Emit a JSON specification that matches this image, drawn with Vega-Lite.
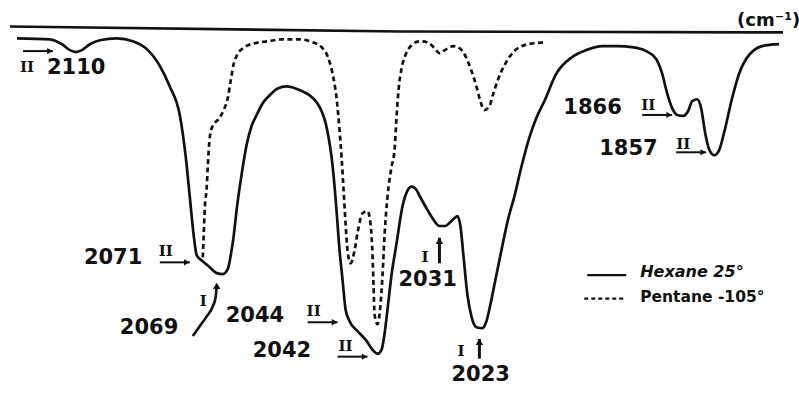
{
  "$schema": "https://vega.github.io/schema/vega-lite/v6.json",
  "width": 799,
  "height": 393,
  "autosize": {"type": "none"},
  "padding": 0,
  "background": "white",
  "config": {"view": {"stroke": null}},
  "datasets": {
    "hexane": [
      {"pos": 4.25, "T": 90.25}, {"pos": 12.5, "T": 90}, {"pos": 15.5, "T": 88.75}, {"pos": 17.5, "T": 87.25},
      {"pos": 19, "T": 86.75}, {"pos": 20.5, "T": 87.25}, {"pos": 22.5, "T": 88.75}, {"pos": 25, "T": 89.75},
      {"pos": 29.25, "T": 90.25}, {"pos": 33.25, "T": 89.5}, {"pos": 36.75, "T": 87.5}, {"pos": 40, "T": 83.25},
      {"pos": 42.5, "T": 78}, {"pos": 45, "T": 70.75}, {"pos": 46.5, "T": 60}, {"pos": 47.5, "T": 50},
      {"pos": 48.5, "T": 40}, {"pos": 49.25, "T": 35}, {"pos": 50.75, "T": 33.5}, {"pos": 52.5, "T": 32},
      {"pos": 54.25, "T": 30.5}, {"pos": 55.75, "T": 30.25}, {"pos": 57, "T": 31.5}, {"pos": 57.75, "T": 35},
      {"pos": 58.5, "T": 40}, {"pos": 59.25, "T": 46.75}, {"pos": 60.5, "T": 55.75}, {"pos": 61.75, "T": 63.25},
      {"pos": 63, "T": 68}, {"pos": 64.25, "T": 70.75}, {"pos": 65.75, "T": 73.75}, {"pos": 67.5, "T": 75.75},
      {"pos": 69.5, "T": 77.5}, {"pos": 71.75, "T": 78}, {"pos": 74, "T": 77.5}, {"pos": 75.75, "T": 76.75},
      {"pos": 77.5, "T": 75.75}, {"pos": 79.25, "T": 74}, {"pos": 80.5, "T": 71.75}, {"pos": 81.5, "T": 68.75},
      {"pos": 82.25, "T": 65}, {"pos": 83, "T": 60}, {"pos": 83.75, "T": 52.5}, {"pos": 84.25, "T": 46.25},
      {"pos": 85, "T": 36.25}, {"pos": 85.75, "T": 28.75}, {"pos": 86.5, "T": 21.25}, {"pos": 87.5, "T": 18.25},
      {"pos": 89.5, "T": 15.75}, {"pos": 91.75, "T": 13.25}, {"pos": 93.25, "T": 11}, {"pos": 94.5, "T": 10},
      {"pos": 95.5, "T": 11}, {"pos": 96.25, "T": 15}, {"pos": 97, "T": 21.25}, {"pos": 98, "T": 30},
      {"pos": 99.25, "T": 38}, {"pos": 100.75, "T": 47.5}, {"pos": 102, "T": 51.5}, {"pos": 103, "T": 52.5},
      {"pos": 104, "T": 52}, {"pos": 105.25, "T": 49.75}, {"pos": 106.75, "T": 47}, {"pos": 108.25, "T": 44.5},
      {"pos": 110, "T": 42.5}, {"pos": 111.5, "T": 42.5}, {"pos": 112.75, "T": 43.5}, {"pos": 113.75, "T": 44.5},
      {"pos": 114.5, "T": 45}, {"pos": 115.25, "T": 42.5}, {"pos": 116, "T": 35}, {"pos": 117, "T": 25},
      {"pos": 118, "T": 19.5}, {"pos": 119.25, "T": 16.75}, {"pos": 120.75, "T": 16.5}, {"pos": 121.75, "T": 18.25},
      {"pos": 122.75, "T": 22.5}, {"pos": 124, "T": 28.75}, {"pos": 125.75, "T": 37.5}, {"pos": 127.25, "T": 44.5},
      {"pos": 128.75, "T": 50}, {"pos": 130.5, "T": 57.5}, {"pos": 132.5, "T": 65}, {"pos": 134.25, "T": 70},
      {"pos": 136.25, "T": 74.25}, {"pos": 139.25, "T": 81.25}, {"pos": 143.25, "T": 85.5}, {"pos": 146.75, "T": 87.25},
      {"pos": 150.75, "T": 88.25}, {"pos": 154.5, "T": 88.25}, {"pos": 158.25, "T": 88}, {"pos": 161.75, "T": 87},
      {"pos": 164.25, "T": 85}, {"pos": 165.75, "T": 81.25}, {"pos": 167, "T": 76.25}, {"pos": 168.25, "T": 72.5},
      {"pos": 169.5, "T": 70.75}, {"pos": 171, "T": 70.5}, {"pos": 172.25, "T": 71.75}, {"pos": 173.25, "T": 74.25},
      {"pos": 174.5, "T": 74.75}, {"pos": 175.5, "T": 72.5}, {"pos": 176.5, "T": 66.25}, {"pos": 177.5, "T": 62},
      {"pos": 178.75, "T": 60.5}, {"pos": 180, "T": 61.75}, {"pos": 181.25, "T": 66.25}, {"pos": 183.25, "T": 75},
      {"pos": 185, "T": 81.25}, {"pos": 186.75, "T": 85}, {"pos": 188.75, "T": 87.25}, {"pos": 190.75, "T": 88.25},
      {"pos": 195, "T": 88.75}
    ],
    "pentane": [
      {"pos": 50.75, "T": 34.5}, {"pos": 51, "T": 40.5}, {"pos": 51.25, "T": 46.75}, {"pos": 51.75, "T": 52.5},
      {"pos": 52, "T": 57.5}, {"pos": 52.5, "T": 65}, {"pos": 53.25, "T": 68}, {"pos": 54.75, "T": 69.75},
      {"pos": 56, "T": 72}, {"pos": 57, "T": 75}, {"pos": 57.75, "T": 79.5}, {"pos": 58.5, "T": 83.75},
      {"pos": 59.5, "T": 86.25}, {"pos": 61.25, "T": 88}, {"pos": 63.75, "T": 89}, {"pos": 67, "T": 89.5},
      {"pos": 70.75, "T": 90}, {"pos": 75, "T": 90}, {"pos": 78.25, "T": 89.25}, {"pos": 80.5, "T": 88},
      {"pos": 82.5, "T": 84.25}, {"pos": 83.5, "T": 80}, {"pos": 84.25, "T": 75}, {"pos": 85, "T": 66.75},
      {"pos": 85.5, "T": 60}, {"pos": 86, "T": 51.75}, {"pos": 86.5, "T": 43}, {"pos": 87, "T": 36.25},
      {"pos": 87.75, "T": 33}, {"pos": 88.75, "T": 36.25}, {"pos": 89.5, "T": 40.75}, {"pos": 90.75, "T": 45.75},
      {"pos": 92, "T": 46.25}, {"pos": 92.75, "T": 43}, {"pos": 93.25, "T": 35}, {"pos": 93.5, "T": 27.5},
      {"pos": 93.75, "T": 20}, {"pos": 94.5, "T": 17.5}, {"pos": 95.25, "T": 22.5}, {"pos": 95.75, "T": 30},
      {"pos": 96.25, "T": 40}, {"pos": 97, "T": 50}, {"pos": 98, "T": 57.5}, {"pos": 98.75, "T": 61.75},
      {"pos": 99.25, "T": 70}, {"pos": 99.75, "T": 77}, {"pos": 100.5, "T": 82.5}, {"pos": 101.5, "T": 86},
      {"pos": 103, "T": 88.5}, {"pos": 105, "T": 89.5}, {"pos": 107, "T": 89.25}, {"pos": 108.75, "T": 87.75},
      {"pos": 110, "T": 86.5}, {"pos": 111.75, "T": 87.5}, {"pos": 113.5, "T": 88.25}, {"pos": 115, "T": 87.75},
      {"pos": 116.5, "T": 85.75}, {"pos": 118, "T": 82}, {"pos": 119.25, "T": 78}, {"pos": 120.25, "T": 74.25},
      {"pos": 121.25, "T": 72}, {"pos": 122.5, "T": 73}, {"pos": 123.5, "T": 76.25}, {"pos": 124.75, "T": 80},
      {"pos": 126.75, "T": 84.25}, {"pos": 128.75, "T": 87}, {"pos": 131.25, "T": 88.5}, {"pos": 133.75, "T": 89},
      {"pos": 136.75, "T": 89.25}
    ],
    "frame": [
      {"pos": 2.5, "T": 93.25}, {"pos": 100, "T": 92}, {"pos": 196, "T": 91.75}
    ],
    "hook": [
      {"pos": 48.25, "T": 14.5}, {"pos": 50, "T": 17}, {"pos": 51.75, "T": 19.5},
      {"pos": 53.25, "T": 22}, {"pos": 54, "T": 24.5}, {"pos": 54.25, "T": 27.5}
    ],
    "labels": [
      {"kind": "num", "text": "2110", "pos": 11.75, "T": 82.75},
      {"kind": "num", "text": "2071", "pos": 21, "T": 34.25},
      {"kind": "num", "text": "2069", "pos": 30, "T": 16.5},
      {"kind": "num", "text": "2044", "pos": 56.5, "T": 19.5},
      {"kind": "num", "text": "2042", "pos": 63.25, "T": 10.75},
      {"kind": "num", "text": "2031", "pos": 99.75, "T": 28.75},
      {"kind": "num", "text": "2023", "pos": 113, "T": 4.5},
      {"kind": "num", "text": "1866", "pos": 141, "T": 72.5},
      {"kind": "num", "text": "1857", "pos": 150, "T": 62},
      {"kind": "roman", "text": "II", "pos": 5, "T": 83},
      {"kind": "roman", "text": "II", "pos": 39.75, "T": 36.25},
      {"kind": "roman", "text": "I", "pos": 50, "T": 23.5},
      {"kind": "roman", "text": "II", "pos": 76.75, "T": 20.75},
      {"kind": "roman", "text": "II", "pos": 84.75, "T": 12},
      {"kind": "roman", "text": "I", "pos": 105.5, "T": 34.5},
      {"kind": "roman", "text": "I", "pos": 114.5, "T": 10.75},
      {"kind": "roman", "text": "II", "pos": 160.5, "T": 73.25},
      {"kind": "roman", "text": "II", "pos": 169.25, "T": 63.25},
      {"kind": "unit", "text": "(cm⁻¹)", "pos": 184.5, "T": 94.75},
      {"kind": "legendA", "text": "Hexane  25°", "pos": 160.25, "T": 30.75},
      {"kind": "legendB", "text": "Pentane -105°", "pos": 160.25, "T": 24.5}
    ],
    "harrows": [
      {"pos": 5.75, "pos2": 13.25, "T": 87},
      {"pos": 40, "pos2": 47.5, "T": 33.25},
      {"pos": 77, "pos2": 84.5, "T": 18},
      {"pos": 84.5, "pos2": 92, "T": 9.25},
      {"pos": 160.75, "pos2": 168.25, "T": 70.75},
      {"pos": 169.25, "pos2": 176.75, "T": 61.25}
    ],
    "varrows": [
      {"pos": 110, "T": 33, "T2": 39.5},
      {"pos": 120, "T": 8.75, "T2": 13.75}
    ],
    "heads": [
      {"dir": "right", "pos": 12.5, "T": 87},
      {"dir": "right", "pos": 46.75, "T": 33.25},
      {"dir": "right", "pos": 83.75, "T": 18},
      {"dir": "right", "pos": 91.25, "T": 9.25},
      {"dir": "right", "pos": 167.5, "T": 70.75},
      {"dir": "right", "pos": 176, "T": 61.25},
      {"dir": "up", "pos": 110, "T": 38.75},
      {"dir": "up", "pos": 120, "T": 13},
      {"dir": "up", "pos": 54.25, "T": 27.25}
    ],
    "legendlines": [
      {"sample": "Hexane", "pos": 147, "pos2": 156.75, "T": 30},
      {"sample": "Pentane", "pos": 146.25, "pos2": 156.75, "T": 24}
    ]
  },
  "layer": [
    {
      "data": {"name": "frame"},
      "mark": {"type": "line", "color": "#111", "strokeWidth": 2.6},
      "encoding": {
        "x": {"field": "pos", "type": "quantitative", "scale": {"domain": [0, 199.75]}, "axis": null},
        "y": {"field": "T", "type": "quantitative", "scale": {"domain": [1.75, 100]}, "axis": null}
      }
    },
    {
      "data": {"name": "hexane"},
      "mark": {"type": "line", "color": "#111", "strokeWidth": 2.7, "interpolate": "monotone"},
      "encoding": {
        "x": {"field": "pos", "type": "quantitative"},
        "y": {"field": "T", "type": "quantitative"}
      }
    },
    {
      "data": {"name": "pentane"},
      "mark": {"type": "line", "color": "#111", "strokeWidth": 2.7, "strokeDash": [5, 3.5], "interpolate": "monotone"},
      "encoding": {
        "x": {"field": "pos", "type": "quantitative"},
        "y": {"field": "T", "type": "quantitative"}
      }
    },
    {
      "data": {"name": "hook"},
      "mark": {"type": "line", "color": "#111", "strokeWidth": 2.6, "interpolate": "monotone"},
      "encoding": {
        "x": {"field": "pos", "type": "quantitative"},
        "y": {"field": "T", "type": "quantitative"}
      }
    },
    {
      "data": {"name": "harrows"},
      "mark": {"type": "rule", "color": "#111", "strokeWidth": 2},
      "encoding": {
        "x": {"field": "pos", "type": "quantitative"},
        "x2": {"field": "pos2"},
        "y": {"field": "T", "type": "quantitative"}
      }
    },
    {
      "data": {"name": "varrows"},
      "mark": {"type": "rule", "color": "#111", "strokeWidth": 3},
      "encoding": {
        "x": {"field": "pos", "type": "quantitative"},
        "y": {"field": "T", "type": "quantitative"},
        "y2": {"field": "T2"}
      }
    },
    {
      "data": {"name": "heads"},
      "transform": [{"filter": "datum.dir === 'right'"}],
      "mark": {"type": "point", "shape": "triangle-right", "filled": true, "size": 40, "color": "#111", "opacity": 1},
      "encoding": {
        "x": {"field": "pos", "type": "quantitative"},
        "y": {"field": "T", "type": "quantitative"}
      }
    },
    {
      "data": {"name": "heads"},
      "transform": [{"filter": "datum.dir === 'up'"}],
      "mark": {"type": "point", "shape": "triangle-up", "filled": true, "size": 55, "color": "#111", "opacity": 1},
      "encoding": {
        "x": {"field": "pos", "type": "quantitative"},
        "y": {"field": "T", "type": "quantitative"}
      }
    },
    {
      "data": {"name": "legendlines"},
      "transform": [{"filter": "datum.sample === 'Hexane'"}],
      "mark": {"type": "rule", "color": "#111", "strokeWidth": 2.4},
      "encoding": {
        "x": {"field": "pos", "type": "quantitative"},
        "x2": {"field": "pos2"},
        "y": {"field": "T", "type": "quantitative"}
      }
    },
    {
      "data": {"name": "legendlines"},
      "transform": [{"filter": "datum.sample === 'Pentane'"}],
      "mark": {"type": "rule", "color": "#111", "strokeWidth": 2.2, "strokeDash": [4, 3]},
      "encoding": {
        "x": {"field": "pos", "type": "quantitative"},
        "x2": {"field": "pos2"},
        "y": {"field": "T", "type": "quantitative"}
      }
    },
    {
      "data": {"name": "labels"},
      "transform": [{"filter": "datum.kind === 'num'"}],
      "mark": {"type": "text", "align": "left", "baseline": "middle", "font": "DejaVu Sans", "fontWeight": "bold", "fontSize": 21, "color": "#111"},
      "encoding": {
        "x": {"field": "pos", "type": "quantitative"},
        "y": {"field": "T", "type": "quantitative"},
        "text": {"field": "text"}
      }
    },
    {
      "data": {"name": "labels"},
      "transform": [{"filter": "datum.kind === 'roman'"}],
      "mark": {"type": "text", "align": "left", "baseline": "middle", "font": "DejaVu Serif", "fontWeight": "bold", "fontSize": 15, "color": "#111"},
      "encoding": {
        "x": {"field": "pos", "type": "quantitative"},
        "y": {"field": "T", "type": "quantitative"},
        "text": {"field": "text"}
      }
    },
    {
      "data": {"name": "labels"},
      "transform": [{"filter": "datum.kind === 'unit'"}],
      "mark": {"type": "text", "align": "left", "baseline": "middle", "font": "DejaVu Sans", "fontWeight": "bold", "fontSize": 18, "color": "#111"},
      "encoding": {
        "x": {"field": "pos", "type": "quantitative"},
        "y": {"field": "T", "type": "quantitative"},
        "text": {"field": "text"}
      }
    },
    {
      "data": {"name": "labels"},
      "transform": [{"filter": "datum.kind === 'legendA'"}],
      "mark": {"type": "text", "align": "left", "baseline": "middle", "font": "DejaVu Sans", "fontWeight": "bold", "fontStyle": "italic", "fontSize": 16, "color": "#111"},
      "encoding": {
        "x": {"field": "pos", "type": "quantitative"},
        "y": {"field": "T", "type": "quantitative"},
        "text": {"field": "text"}
      }
    },
    {
      "data": {"name": "labels"},
      "transform": [{"filter": "datum.kind === 'legendB'"}],
      "mark": {"type": "text", "align": "left", "baseline": "middle", "font": "DejaVu Sans", "fontWeight": "bold", "fontSize": 15.5, "color": "#111"},
      "encoding": {
        "x": {"field": "pos", "type": "quantitative"},
        "y": {"field": "T", "type": "quantitative"},
        "text": {"field": "text"}
      }
    }
  ]
}
